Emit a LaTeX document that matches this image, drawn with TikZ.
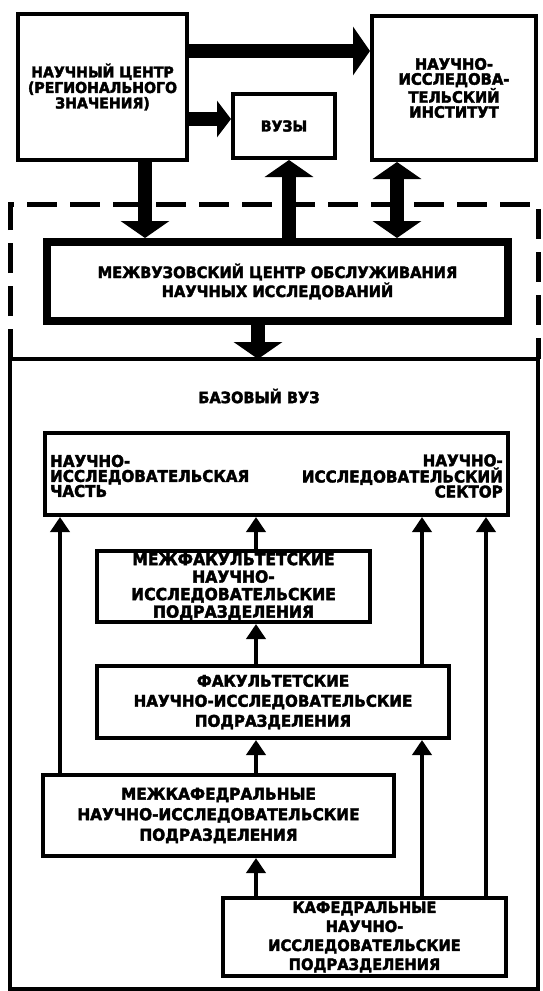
\documentclass[tikz,border=0pt]{standalone}
\usepackage{fontspec}
\setmainfont{DejaVu Sans}
\newfontfamily\heavy{DejaVu Sans}[FakeStretch=0.94, FakeBold=2.5]
\newcommand\boxfont[2]{\heavy\bfseries\fontsize{#1}{#2}\selectfont}
\usetikzlibrary{arrows.meta,positioning}

\begin{document}
\begin{tikzpicture}[x=1pt, y=-1pt,
  unit/.style={draw, line width=4pt, align=center, inner sep=0pt,
    font=\boxfont{15}{15.5}},
  bigarr/.style={line width=14pt, -{Triangle[width=48pt,length=17pt]}},
  thinarr/.style={line width=4.5pt, -{Triangle[width=19pt,length=15pt]}}]
\useasboundingbox (0,0) rectangle (542,991);
% upper level
\node[unit, minimum width=169pt, minimum height=146pt] (nc) at (102.5,87)
  {НАУЧНЫЙ ЦЕНТР\\(РЕГИОНАЛЬНОГО\\ЗНАЧЕНИЯ)};
\node[unit, minimum width=102pt, minimum height=64pt] (vuz) at (284,126) {ВУЗЫ};
\node[unit, minimum width=164pt, minimum height=144pt, font=\boxfont{15.7}{15}]
  (nii) at (454,88)
  {НАУЧНО-\\ИССЛЕДОВА-\\ТЕЛЬСКИЙ\\ИНСТИТУТ};
\node[unit, line width=8pt, minimum width=461pt, minimum height=79pt,
  font=\boxfont{15.6}{19}] (mc) at (277.5,281.5)
  {МЕЖВУЗОВСКИЙ ЦЕНТР ОБСЛУЖИВАНИЯ\\НАУЧНЫХ ИССЛЕДОВАНИЙ};
% base university
\draw[line width=5pt, dash pattern=on 30pt off 13pt]
  (10,359) -- (10,204) -- (538,204) -- (538,359);
\draw[line width=4pt] (10,359) rectangle (538,989);
\node[font=\boxfont{15.5}{15}] (bv) at (259,396) {БАЗОВЫЙ ВУЗ};
\node[unit, minimum width=463pt, minimum height=82pt] (nich) at (276.5,474) {};
\node[font=\boxfont{16.1}{15}, align=left, anchor=west, inner sep=0pt] (nichL) at (50,476)
  {НАУЧНО-\\ИССЛЕДОВАТЕЛЬСКАЯ\\ЧАСТЬ};
\node[font=\boxfont{16.1}{15}, align=right, anchor=east, inner sep=0pt] (nichR) at (503,476)
  {НАУЧНО-\\ИССЛЕДОВАТЕЛЬСКИЙ\\СЕКТОР};
\node[unit, minimum width=273pt, minimum height=71pt, font=\boxfont{16.6}{17.5}]
  (mf) at (233.5,586.5)
  {МЕЖФАКУЛЬТЕТСКИЕ\\НАУЧНО-\\ИССЛЕДОВАТЕЛЬСКИЕ\\ПОДРАЗДЕЛЕНИЯ};
\node[unit, minimum width=352pt, minimum height=72pt, font=\boxfont{16.1}{20}]
  (fk) at (273,702)
  {ФАКУЛЬТЕТСКИЕ\\НАУЧНО-ИССЛЕДОВАТЕЛЬСКИЕ\\ПОДРАЗДЕЛЕНИЯ};
\node[unit, minimum width=351pt, minimum height=81pt, font=\boxfont{16.3}{20.5}]
  (mk) at (218.5,815.5)
  {МЕЖКАФЕДРАЛЬНЫЕ\\НАУЧНО-ИССЛЕДОВАТЕЛЬСКИЕ\\ПОДРАЗДЕЛЕНИЯ};
\node[unit, minimum width=283pt, minimum height=78pt, font=\boxfont{15.6}{19}]
  (kf) at (364.5,937)
  {КАФЕДРАЛЬНЫЕ\\НАУЧНО-\\ИССЛЕДОВАТЕЛЬСКИЕ\\ПОДРАЗДЕЛЕНИЯ};
% columns of the connectors
\coordinate (r1) at (0,51);
\coordinate (r2) at (0,119);
\coordinate (k1) at (145,0);
\coordinate (k2) at (289,0);
\coordinate (k3) at (397,0);
\coordinate (k4) at (258,0);
\coordinate (c1) at (60,0);
\coordinate (c2) at (256,0);
\coordinate (c3) at (422,0);
\coordinate (c4) at (486,0);
\draw[bigarr] (nc.east |- r1) -- (nii.west |- r1);
\draw[bigarr, -{Triangle[width=36pt,length=14pt]}] (nc.east |- r2) -- (vuz.west |- r2);
\draw[bigarr] (nc.south -| k1) -- (mc.north -| k1);
\draw[bigarr] (mc.north -| k2) -- (vuz.south -| k2);
\draw[bigarr, {Triangle[width=48pt,length=17pt]}-{Triangle[width=48pt,length=17pt]}]
  (mc.north -| k3) -- (nii.south -| k3);
\draw[bigarr] (mc.south -| k4) -- (k4 |- 0,359);
\draw[thinarr] (mk.north -| c1) -- (nich.south -| c1);
\draw[thinarr] (mf.north -| c2) -- (nich.south -| c2);
\draw[thinarr] (fk.north -| c2) -- (mf.south -| c2);
\draw[thinarr] (mk.north -| c2) -- (fk.south -| c2);
\draw[thinarr] (kf.north -| c2) -- (mk.south -| c2);
\draw[thinarr] (fk.north -| c3) -- (nich.south -| c3);
\draw[thinarr] (kf.north -| c3) -- (fk.south -| c3);
\draw[thinarr] (kf.north -| c4) -- (nich.south -| c4);
\end{tikzpicture}
\end{document}
